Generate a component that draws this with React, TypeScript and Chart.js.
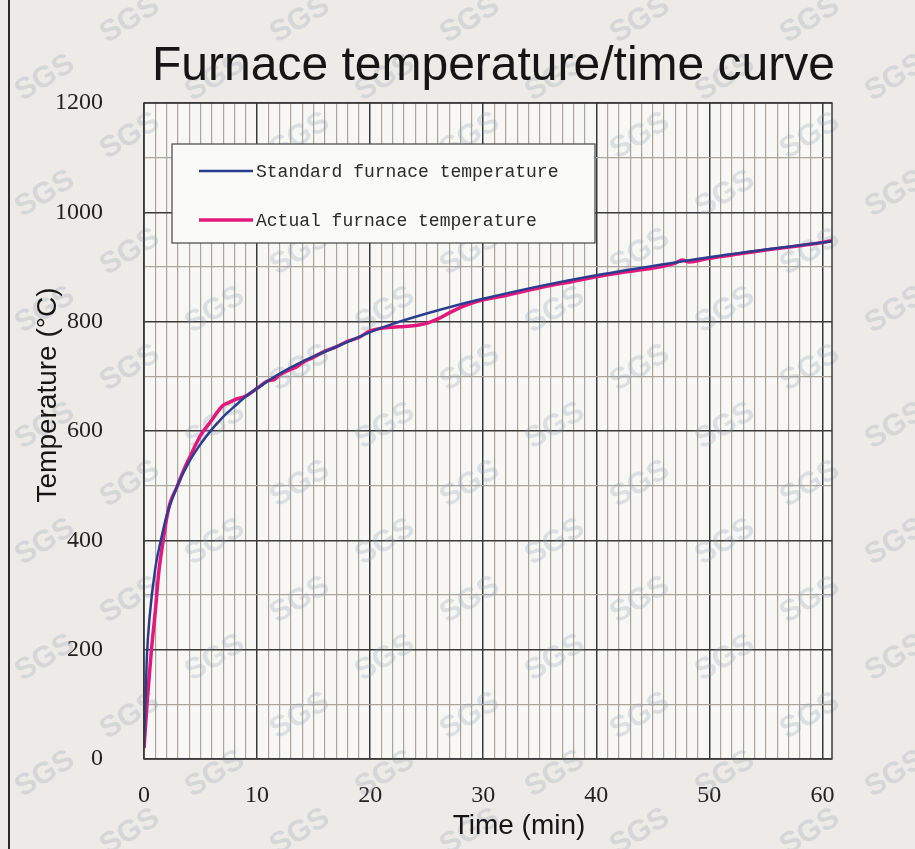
import React, { useEffect, useRef } from "react";
import { Chart, registerables } from "chart.js";

Chart.register(...registerables);

const CHART_TITLE = "Furnace temperature/time curve";
const X_TITLE = "Time (min)";
const Y_TITLE = "Temperature (°C)";

const standardLabel = "Standard furnace temperature";
const actualLabel = "Actual furnace temperature";

// Standard furnace curve
const standardTime = [0, 0.25, 0.5, 1, 1.5, 2, 3, 4, 5, 6, 7, 8, 9, 10, 12, 14, 16, 18, 20, 22, 25, 28, 30, 35, 40, 45, 50, 55, 60, 60.85];
const standardTemp = [20, 185, 261, 349, 401, 445, 502, 544, 576, 603, 626, 645, 663, 678, 705, 727, 745, 763, 781, 796, 815, 832, 842, 865, 885, 902, 918, 932, 945, 947];

// Actual furnace curve
const actualTime = [0, 0.3, 0.66, 1, 1.3, 1.7, 2, 2.3, 2.9, 3.5, 4, 5, 6, 6.5, 7, 7.5, 8, 9, 10, 11, 11.5, 12, 13, 13.5, 14, 15, 16, 17, 18, 19, 20, 21, 22, 23, 24, 25, 26, 27, 28, 29, 30, 32, 35, 38, 40, 42, 45, 47, 47.6, 48.2, 50, 53, 55, 58, 60, 60.85];
const actualTemp = [20, 110, 200, 270, 340, 400, 440, 468, 497, 528, 550, 592, 620, 635, 647, 652, 657, 664, 678, 692, 694, 703, 713, 717, 725, 735, 746, 754, 764, 771, 783, 788, 790, 791, 793, 797, 805, 816, 826, 834, 840, 848, 862, 874, 882, 889, 898, 907, 913, 909, 916, 925, 931, 939, 945, 948];

const xMajorTicks = [0, 10, 20, 30, 40, 50, 60];
const yMajorTicks = [0, 200, 400, 600, 800, 1000, 1200];

const BLUE = "#2b3d8f";
const PINK = "#e2187c";

const toPoints = (xs: number[], ys: number[]) => xs.map((x, i) => ({ x, y: ys[i] }));

const decorPlugin = {
  id: "decor",
  beforeDraw(chart: any) {
    const { ctx, chartArea: a, width, height } = chart;
    ctx.save();
    ctx.fillStyle = "#ecebe8";
    ctx.fillRect(0, 0, width, height);
    ctx.fillStyle = "#f7f7f5";
    ctx.fillRect(a.left, a.top, a.right - a.left, a.bottom - a.top);
    ctx.fillStyle = "#2a2a2a";
    ctx.fillRect(8, 0, 2, height);
    ctx.restore();
  },
  beforeDatasetsDraw(chart: any) {
    const { ctx, width, height } = chart;
    ctx.save();
    ctx.font = "bold 30px 'Liberation Sans', Arial, sans-serif";
    ctx.fillStyle = "rgba(150,162,176,0.28)";
    ctx.textAlign = "center";
    ctx.textBaseline = "middle";
    let row = 0;
    for (let y = 20; y < height + 40; y += 58) {
      const off = (row % 2) * 85;
      for (let x = -40 + off; x < width + 80; x += 170) {
        ctx.save();
        ctx.translate(x, y);
        ctx.rotate(-0.55);
        ctx.fillText("SGS", 0, 0);
        ctx.restore();
      }
      row++;
    }
    ctx.restore();
  },
  afterDraw(chart: any) {
    const { ctx, chartArea: a, width } = chart;
    ctx.save();
    // frame
    ctx.strokeStyle = "#3a3a3a";
    ctx.lineWidth = 1.5;
    ctx.strokeRect(a.left, a.top, a.right - a.left, a.bottom - a.top);

    // title
    ctx.fillStyle = "#151515";
    ctx.font = "48px 'Liberation Sans', Arial, sans-serif";
    ctx.textAlign = "center";
    ctx.textBaseline = "alphabetic";
    ctx.fillText(CHART_TITLE, 493.5, 80);

    // axis titles
    ctx.font = "28px 'Liberation Sans', Arial, sans-serif";
    ctx.textBaseline = "middle";
    ctx.fillText(X_TITLE, 519, 826);
    ctx.save();
    ctx.translate(48, 395);
    ctx.rotate(-Math.PI / 2);
    ctx.fillText(Y_TITLE, 0, 0);
    ctx.restore();

    // legend
    const lx = 172, ly = 144, lw = 423, lh = 99;
    ctx.fillStyle = "#fafaf8";
    ctx.fillRect(lx, ly, lw, lh);
    ctx.strokeStyle = "#444";
    ctx.lineWidth = 1.2;
    ctx.strokeRect(lx, ly, lw, lh);
    const items = chart.data.datasets.map((d: any) => ({ label: d.label, color: d.borderColor, w: d.borderWidth }));
    const rows = [171, 220];
    ctx.font = "18px 'Liberation Mono', 'DejaVu Sans Mono', monospace";
    ctx.textAlign = "left";
    items.forEach((it: any, i: number) => {
      const y = rows[i];
      ctx.strokeStyle = it.color;
      ctx.lineWidth = it.w;
      ctx.beginPath();
      ctx.moveTo(199, y);
      ctx.lineTo(253, y);
      ctx.stroke();
      ctx.fillStyle = "#2a2a2a";
      ctx.fillText(it.label, 256, y + 1);
    });
    ctx.restore();
  },
};

export default function App() {
  const ref = useRef<HTMLCanvasElement | null>(null);

  useEffect(() => {
    document.body.style.margin = "0";
    if (!ref.current) return;
    const chart = new Chart(ref.current, {
      type: "line",
      data: {
        datasets: [
          {
            label: standardLabel,
            data: toPoints(standardTime, standardTemp),
            borderColor: BLUE,
            borderWidth: 2.5,
            pointRadius: 0,
            cubicInterpolationMode: "monotone",
            fill: false,
          },
          {
            label: actualLabel,
            data: toPoints(actualTime, actualTemp),
            borderColor: PINK,
            borderWidth: 3.5,
            pointRadius: 0,
            cubicInterpolationMode: "monotone",
            fill: false,
          },
        ],
      },
      options: {
        responsive: false,
        animation: false,
        devicePixelRatio: 1,
        layout: { padding: { left: 0, top: 103, right: 83, bottom: 0 } },
        plugins: {
          legend: { display: false },
          title: { display: false },
          tooltip: { enabled: false },
        },
        scales: {
          x: {
            type: "linear",
            min: 0,
            max: 60.85,
            afterFit: (s: any) => {
              s.height = 90;
            },
            border: { display: false },
            grid: {
              drawTicks: false,
              color: (c: any) => (xMajorTicks.includes(c.tick?.value) ? "#3a3a3a" : "#aaa49b"),
              lineWidth: (c: any) => (xMajorTicks.includes(c.tick?.value) ? 1.5 : 1.2),
            },
            ticks: {
              stepSize: 1,
              autoSkip: false,
              includeBounds: false,
              maxRotation: 0,
              padding: 22,
              color: "#222",
              font: { family: "'Liberation Serif', 'Times New Roman', serif", size: 24 },
              callback: (v: any) => (xMajorTicks.includes(Number(v)) ? String(v) : ""),
            },
          },
          y: {
            type: "linear",
            min: 0,
            max: 1200,
            afterFit: (s: any) => {
              s.width = 144;
            },
            border: { display: false },
            grid: {
              drawTicks: false,
              color: (c: any) => (yMajorTicks.includes(c.tick?.value) ? "#3a3a3a" : "#aaa49b"),
              lineWidth: (c: any) => (yMajorTicks.includes(c.tick?.value) ? 1.5 : 1.2),
            },
            ticks: {
              stepSize: 100,
              autoSkip: false,
              padding: 41,
              color: "#222",
              font: { family: "'Liberation Serif', 'Times New Roman', serif", size: 24 },
              callback: (v: any) => (yMajorTicks.includes(Number(v)) ? String(v) : ""),
            },
          },
        },
      },
      plugins: [decorPlugin],
    });
    return () => chart.destroy();
  }, []);

  return (
    <div style={{ width: 915, height: 849 }}>
      <canvas ref={ref} width={915} height={849} style={{ display: "block", width: 915, height: 849 }} />
    </div>
  );
}
